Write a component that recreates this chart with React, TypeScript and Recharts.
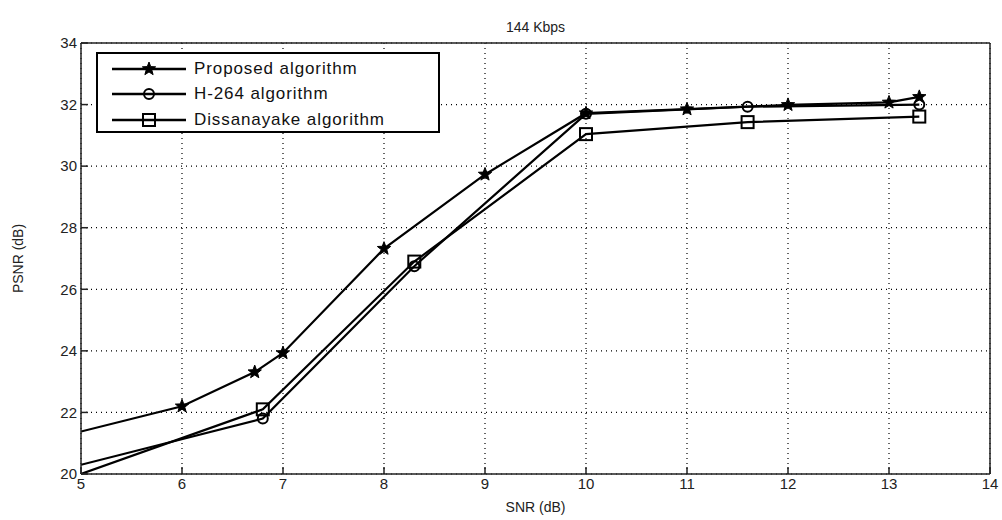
import * as React from "react";
import {
  LineChart,
  Line,
  XAxis,
  YAxis,
  CartesianGrid,
  Label,
} from "recharts";

const proposedSnr = [5, 6, 6.72, 7, 8, 9, 10, 11, 12, 13, 13.3];
const proposedPsnr = [21.38, 22.2, 23.31, 23.93, 27.32, 29.73, 31.72, 31.85, 31.99, 32.07, 32.25];

const h264Snr = [5, 6.8, 8.3, 10, 11.6, 13.3];
const h264Psnr = [20.3, 21.8, 26.75, 31.7, 31.93, 32.0];

const dissSnr = [5, 6.8, 8.3, 10, 11.6, 13.3];
const dissPsnr = [20.0, 22.1, 26.9, 31.04, 31.43, 31.61];

const xTicks = [5, 6, 7, 8, 9, 10, 11, 12, 13, 14];
const yTicks = [20, 22, 24, 26, 28, 30, 32, 34];

const seriesNames = ["Proposed algorithm", "H-264 algorithm", "Dissanayake algorithm"];

const toRows = (xs: number[], ys: number[]) => xs.map((x, i) => ({ snr: x, psnr: ys[i] }));

const proposedData = toRows(proposedSnr, proposedPsnr);
const h264Data = toRows(h264Snr, h264Psnr);
const dissData = toRows(dissSnr, dissPsnr);

const FONT = "'Liberation Sans', Arial, sans-serif";

const starPath = (cx: number, cy: number, r: number) => {
  const pts: string[] = [];
  for (let i = 0; i < 10; i++) {
    const rr = i % 2 === 0 ? r : r * 0.42;
    const a = -Math.PI / 2 + (i * Math.PI) / 5;
    pts.push(`${cx + rr * Math.cos(a)},${cy + rr * Math.sin(a)}`);
  }
  return "M" + pts.join("L") + "Z";
};

const Marker = ({ kind, cx, cy }: { kind: string; cx: number; cy: number }) => {
  if (kind === "star")
    return <path d={starPath(cx, cy, 7)} fill="#000" stroke="#000" strokeWidth={1} />;
  if (kind === "circle")
    return <circle cx={cx} cy={cy} r={5} fill="none" stroke="#000" strokeWidth={2} />;
  return <rect x={cx - 6} y={cy - 6} width={12} height={12} fill="none" stroke="#000" strokeWidth={2} />;
};

const makeDot = (kind: string) => (props: any) => {
  const { cx, cy, payload, index } = props;
  if (payload.snr === 5 || cx == null) return <g key={`d-${kind}-${index}`} />;
  return (
    <g key={`d-${kind}-${index}`}>
      <Marker kind={kind} cx={cx} cy={cy} />
    </g>
  );
};

const kinds = ["star", "circle", "square"];

const LegendBox = () => (
  <div
    style={{
      position: "absolute",
      left: 96,
      top: 52,
      width: 344,
      height: 81,
      border: "2px solid #000",
      background: "#fff",
      fontFamily: FONT,
      fontSize: 17,
      color: "#111",
      boxSizing: "border-box",
      paddingTop: 2,
    }}
  >
    {seriesNames.map((name, i) => (
      <div key={name} style={{ display: "flex", alignItems: "center", height: 25.5 }}>
        <svg width={80} height={20} style={{ marginLeft: 12 }}>
          <line x1={2} y1={10} x2={76} y2={10} stroke="#000" strokeWidth={2.5} />
          <Marker kind={kinds[i]} cx={39} cy={10} />
        </svg>
        <span style={{ marginLeft: 4, letterSpacing: 0.9 }}>{name}</span>
      </div>
    ))}
  </div>
);

export default function App() {
  return (
    <div style={{ position: "absolute", left: 0, top: 0, width: 1002, height: 520, background: "#fff" }}>
      <LineChart
        width={1002}
        height={520}
        margin={{ top: 42, right: 11, bottom: 16, left: 0 }}
      >
        <CartesianGrid xAxisId="b" yAxisId="l" stroke="#000" strokeDasharray="1 4" strokeWidth={1.2} />
        <XAxis
          xAxisId="b"
          type="number"
          dataKey="snr"
          domain={[5, 14]}
          ticks={xTicks}
          allowDataOverflow
          height={30}
          stroke="#222"
          strokeWidth={1.5}
          tickSize={-7}
          tickMargin={11}
          tick={{ fill: "#222", fontSize: 15, fontFamily: FONT }}
        >
          <Label value="SNR (dB)" position="bottom" offset={-2} style={{ fill: "#222", fontSize: 14, fontFamily: FONT }} />
        </XAxis>
        <XAxis
          xAxisId="t"
          orientation="top"
          type="number"
          dataKey="snr"
          domain={[5, 14]}
          ticks={xTicks}
          height={1}
          stroke="#222"
          strokeWidth={1.5}
          tickSize={-7}
          tick={false}
        >
          <Label value="144 Kbps" position="top" offset={10} style={{ fill: "#222", fontSize: 14, fontFamily: FONT }} />
        </XAxis>
        <YAxis
          yAxisId="l"
          type="number"
          domain={[20, 34]}
          ticks={yTicks}
          width={81}
          stroke="#222"
          strokeWidth={1.5}
          tickSize={-7}
          tickMargin={11}
          tick={{ fill: "#222", fontSize: 15, fontFamily: FONT }}
        >
          <Label
            value="PSNR (dB)"
            angle={-90}
            position="insideLeft"
            offset={18}
            style={{ fill: "#222", fontSize: 14, fontFamily: FONT, textAnchor: "middle" }}
          />
        </YAxis>
        <YAxis
          yAxisId="r"
          orientation="right"
          type="number"
          domain={[20, 34]}
          ticks={yTicks}
          width={1}
          stroke="#222"
          strokeWidth={1.5}
          tickSize={-7}
          tick={false}
        />
        <Line
          xAxisId="b"
          yAxisId="l"
          data={dissData}
          dataKey="psnr"
          name={seriesNames[2]}
          stroke="#000"
          strokeWidth={2.2}
          dot={makeDot("square")}
          isAnimationActive={false}
        />
        <Line
          xAxisId="b"
          yAxisId="l"
          data={h264Data}
          dataKey="psnr"
          name={seriesNames[1]}
          stroke="#000"
          strokeWidth={2.2}
          dot={makeDot("circle")}
          isAnimationActive={false}
        />
        <Line
          xAxisId="b"
          yAxisId="l"
          data={proposedData}
          dataKey="psnr"
          name={seriesNames[0]}
          stroke="#000"
          strokeWidth={2.2}
          dot={makeDot("star")}
          isAnimationActive={false}
        />
      </LineChart>
      <LegendBox />
    </div>
  );
}
